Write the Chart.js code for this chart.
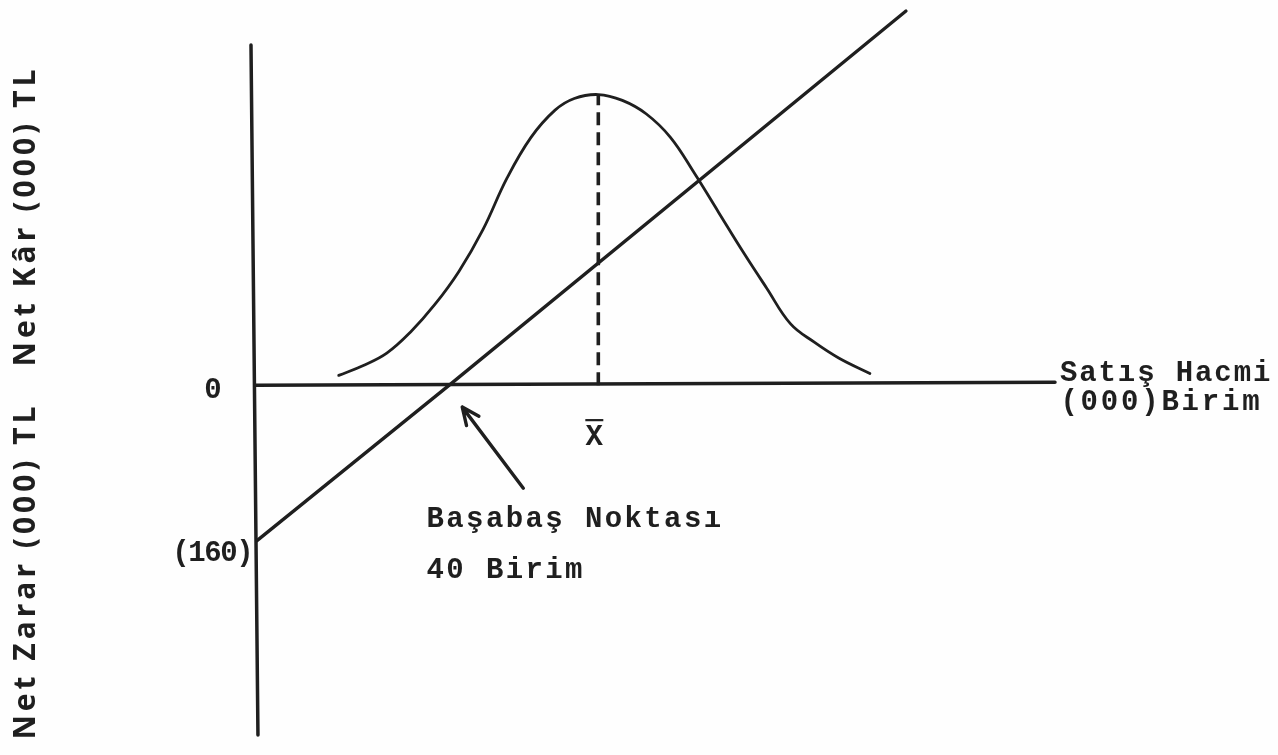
<!DOCTYPE html>
<html>
<head>
<meta charset="utf-8">
<script src="https://cdn.jsdelivr.net/npm/chart.js@4/dist/chart.umd.min.js"></script>
<style>
  html, body { margin: 0; padding: 0; background: #fefefe; }
  #wrap { width: 1278px; height: 755px; position: relative; }
</style>
</head>
<body>
<div id="wrap"><canvas id="c" width="1278" height="755"></canvas></div>
<script>
// Sales volume (000 units) against net profit / loss (000 TL)
const profitLineX = [0, 40, 135];
const profitLineY = [-160, 0, 385];

// Sales volume distribution (bell curve)
const demandX = [17, 22, 27, 32, 37, 42, 47, 52, 57, 62, 66, 71, 76, 81, 86, 91, 96, 101, 106, 111, 116, 121, 127.5];
const demandY = [10, 20, 33, 55, 83, 117, 160, 213, 255, 283, 295, 299, 293, 279, 255, 218, 178, 138, 100, 63, 44, 28, 12];

// Mean sales volume (X̄) and the height of the curve there
const meanX = [71, 71];
const meanY = [0, 299];

// Hand-drawn axes
const yAxisX = [-1.25, 0.2];
const yAxisY = [350, -360];
const xAxisX = [-0.4, 166];
const xAxisY = [0, 3];

// Labels on the vertical axis
const yTickValues = [0, -160];
const yTickLabels = ['0', '(160)'];

// Break-even annotation: arrow from label towards the break-even point
const breakEvenUnits = 40;
const arrowFrom = [55.4, -106];
const arrowTo = [42.7, -22.6];

const INK = '#1f1f1f';
const pts = (xs, ys) => xs.map((x, i) => ({ x, y: ys[i] }));

function drawMono(ctx, text, left, baseline, pitch) {
  [...text].forEach((ch, i) => ctx.fillText(ch, left + i * pitch + pitch / 2, baseline));
}

function drawSpread(ctx, text, centre, baseline, length) {
  const chars = [...text];
  const widths = chars.map(c => ctx.measureText(c).width);
  const natural = widths.reduce((a, b) => a + b, 0);
  const gap = (length - natural) / (chars.length - 1);
  let x = centre - length / 2;
  chars.forEach((c, i) => { ctx.fillText(c, x, baseline); x += widths[i] + gap; });
}

const annotations = {
  id: 'annotations',
  afterDatasetsDraw(chart) {
    const { ctx, scales: { x, y } } = chart;
    ctx.save();
    ctx.fillStyle = INK;
    ctx.strokeStyle = INK;
    const TYPE = 'bold 29px "Liberation Mono"';

    // vertical-axis values
    ctx.font = TYPE;
    ctx.textAlign = 'center';
    ctx.textBaseline = 'alphabetic';
    const x0 = x.getPixelForValue(0);
    ctx.fillText(yTickLabels[0], x0 - 44, y.getPixelForValue(yTickValues[0]) + 13);
    drawMono(ctx, yTickLabels[1], x0 - 84, y.getPixelForValue(yTickValues[1]) + 20, 16);

    // X̄ under the mean
    const mx = x.getPixelForValue(meanX[0]);
    const y0 = y.getPixelForValue(0);
    ctx.fillText('X', mx - 4, y0 + 60);
    ctx.lineWidth = 2.2;
    ctx.beginPath();
    ctx.moveTo(mx - 13, y0 + 35);
    ctx.lineTo(mx + 5, y0 + 35);
    ctx.stroke();

    // horizontal axis title
    const ax = x.getPixelForValue(166) + 4;
    drawMono(ctx, 'Satış Hacmi', ax, y0 - 4, 19.3);
    drawMono(ctx, '(000)Birim', ax, y0 + 25, 20.2);

    // break-even note
    const bx = x.getPixelForValue(breakEvenUnits) - 24;
    drawMono(ctx, 'Başabaş Noktası', bx, y0 + 142, 19.8);
    drawMono(ctx, breakEvenUnits + ' Birim', bx, y0 + 193, 19.8);

    // arrow
    const tx = x.getPixelForValue(arrowTo[0]), ty = y.getPixelForValue(arrowTo[1]);
    const fx = x.getPixelForValue(arrowFrom[0]), fy = y.getPixelForValue(arrowFrom[1]);
    ctx.lineWidth = 3.4;
    ctx.lineCap = 'round';
    ctx.beginPath();
    ctx.moveTo(fx, fy);
    ctx.lineTo(tx, ty);
    const ang = Math.atan2(ty - fy, tx - fx);
    const head = 19;
    [0.42, -0.42].forEach(d => {
      ctx.moveTo(tx, ty);
      ctx.lineTo(tx - head * Math.cos(ang + d), ty - head * Math.sin(ang + d));
    });
    ctx.stroke();

    // rotated vertical-axis titles
    ctx.font = 'bold 30px "Open Sans"';
    ctx.textAlign = 'left';
    ctx.textBaseline = 'alphabetic';
    [['Net Kâr (000) TL', 218, 297], ['Net Zarar (000) TL', 573, 333]].forEach(([t, cy, len]) => {
      ctx.save();
      ctx.translate(35, cy);
      ctx.rotate(-Math.PI / 2);
      drawSpread(ctx, t, 0, 0, len);
      ctx.restore();
    });

    ctx.restore();
  }
};

const lineStyle = { showLine: true, pointRadius: 0, borderColor: INK, clip: false, fill: false, borderCapStyle: 'round' };

new Chart(document.getElementById('c'), {
  type: 'line',
  data: {
    datasets: [
      { ...lineStyle, data: pts(yAxisX, yAxisY), borderWidth: 3.5 },
      { ...lineStyle, data: pts(xAxisX, xAxisY), borderWidth: 3.5 },
      { ...lineStyle, data: pts(demandX, demandY), borderWidth: 2.8, tension: 0.4 },
      { ...lineStyle, data: pts(meanX, meanY), borderWidth: 3.6, borderDash: [13, 7], borderCapStyle: 'butt' },
      { ...lineStyle, data: pts(profitLineX, profitLineY), borderWidth: 3.3 }
    ]
  },
  options: {
    responsive: false,
    animation: false,
    events: [],
    layout: { padding: { left: 257, right: 223, top: 45, bottom: 20 } },
    scales: {
      x: { type: 'linear', min: 0, max: 166, display: false },
      y: { type: 'linear', min: -360, max: 350, display: false }
    },
    plugins: { legend: { display: false }, tooltip: { enabled: false } }
  },
  plugins: [annotations]
});
</script>
</body>
</html>
